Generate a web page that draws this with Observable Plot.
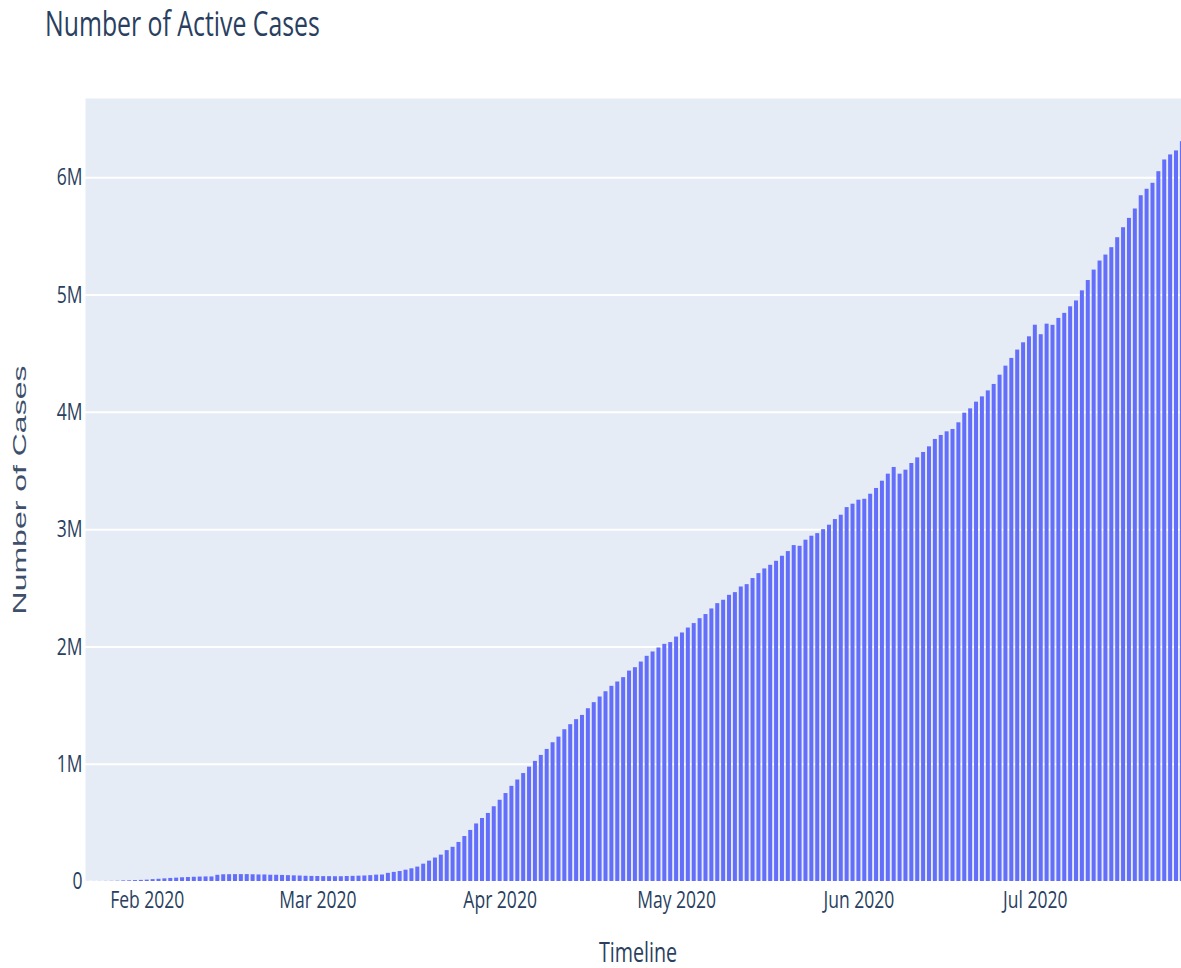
<!DOCTYPE html>
<html>
<head>
<meta charset="utf-8">
<script src="https://cdn.jsdelivr.net/npm/d3@7"></script>
<script src="https://cdn.jsdelivr.net/npm/@observablehq/plot@0.6"></script>
<style>
  html, body { margin: 0; padding: 0; background: #fff; overflow: hidden; }
  #wrap { position: relative; width: 1181px; height: 968px; }
  #title {
    position: absolute; left: 45px; top: 0px;
    font-family: "Open Sans", sans-serif; font-size: 34px; line-height: normal;
    color: #2a3f5f; white-space: nowrap;
    transform: scaleX(0.73); transform-origin: 0 0;
  }
  #chart { position: absolute; left: 0; top: 0; }
</style>
</head>
<body>
<div id="wrap">
  <div id="chart"></div>
  <div id="title">Number of Active Cases</div>
</div>
<script>
// ---- data ----
const startDate = "2020-01-22";
const activeCases = [
  510, 606, 879, 1353, 2010, 2784, 5340, 5907, 7920, 9492,
  11495, 15953, 18838, 22554, 25955, 28681, 31665, 33707, 36009, 37809,
  39014, 38960, 52715, 57328, 57991, 58600, 58819, 58793, 57409, 55788,
  55700, 53258, 53119, 51690, 49786, 48222, 46645, 44541, 43290, 42659,
  41622, 41456, 40700, 40742, 42476, 43931, 45325, 47108, 49954, 54257,
  55308, 69550, 77658, 84980, 96360, 108357, 122881, 147849, 173653, 200035,
  224816, 263375, 291526, 332868, 383471, 435178, 490639, 537110, 580217, 637346,
  692619, 749911, 811334, 865302, 920368, 975000, 1024000, 1075000, 1126000, 1183000,
  1231000, 1294000, 1337000, 1380000, 1416000, 1473000, 1525000, 1573000, 1618000, 1664000,
  1701000, 1738000, 1794000, 1823000, 1871000, 1920000, 1957000, 1991000, 2022000, 2037000,
  2084000, 2119000, 2161000, 2199000, 2241000, 2276000, 2324000, 2369000, 2398000, 2440000,
  2463000, 2511000, 2531000, 2583000, 2625000, 2665000, 2696000, 2730000, 2773000, 2813000,
  2864000, 2858000, 2910000, 2944000, 2966000, 3000000, 3038000, 3086000, 3123000, 3188000,
  3217000, 3251000, 3259000, 3302000, 3351000, 3413000, 3473000, 3530000, 3473000, 3507000,
  3564000, 3612000, 3658000, 3706000, 3769000, 3803000, 3834000, 3854000, 3911000, 3993000,
  4030000, 4087000, 4132000, 4183000, 4238000, 4317000, 4394000, 4460000, 4531000, 4593000,
  4644000, 4743000, 4662000, 4752000, 4742000, 4801000, 4844000, 4900000, 4950000, 5036000,
  5124000, 5213000, 5290000, 5341000, 5404000, 5489000, 5574000, 5654000, 5734000, 5847000,
  5902000, 5953000, 6052000, 6152000, 6195000, 6229000, 6308000, 6358362
];
const xTickDates = ["2020-02-01", "2020-03-01", "2020-04-01", "2020-05-01", "2020-06-01", "2020-07-01"];
const xTickLabels = ["Feb 2020", "Mar 2020", "Apr 2020", "May 2020", "Jun 2020", "Jul 2020"];
const yTickValues = [0, 1000000, 2000000, 3000000, 4000000, 5000000, 6000000];
const yTickLabels = ["0", "1M", "2M", "3M", "4M", "5M", "6M"];
const xLabel = "Timeline";
const yLabel = "Number of Cases";

// ---- table ----
const start = new Date(startDate + "T00:00Z");
const data = activeCases.map((v, i) => ({date: d3.utcDay.offset(start, i), active: v}));
const xTicks = xTickDates.map(s => new Date(s + "T00:00Z"));

const chart = Plot.plot({
  width: 1181,
  height: 968,
  marginLeft: 85,
  marginRight: 0,
  marginTop: 98,
  marginBottom: 87,
  style: {fontFamily: "'Open Sans', sans-serif", fontSize: "24px", color: "#2a3f5f", background: "transparent"},
  x: {
    type: "utc",
    domain: [new Date("2020-01-21T12:00Z"), new Date("2020-07-25T20:24Z")],
    ticks: xTicks,
    tickFormat: d => xTickLabels[xTicks.findIndex(t => +t === +d)],
    tickSize: 0,
    tickPadding: 9,
    label: xLabel,
    labelArrow: "none",
    labelAnchor: "center",
    labelOffset: 80
  },
  y: {
    domain: [0, 6676000],
    ticks: yTickValues,
    tickFormat: d => yTickLabels[yTickValues.indexOf(d)],
    tickSize: 0,
    tickPadding: 3,
    label: yLabel,
    labelArrow: "none",
    labelAnchor: "center",
    labelOffset: 73
  },
  marks: [
    Plot.frame({fill: "#E5ECF6", stroke: null}),
    Plot.gridY(yTickValues, {stroke: "#ffffff", strokeOpacity: 1, strokeWidth: 2}),
    Plot.rectY(data, {
      x1: d => d3.utcHour.offset(d.date, -12),
      x2: d => d3.utcHour.offset(d.date, 12),
      y: "active",
      fill: "#636EFA",
      insetLeft: 0.95,
      insetRight: 0.95,
      clip: true
    })
  ]
});
document.getElementById("chart").appendChild(chart);

// stretch text like the reference (condensed horizontally)
function appendScale(selector, s, extraStyle, stripArrow, shift) {
  chart.querySelectorAll(selector).forEach(t => {
    if (stripArrow) t.textContent = t.textContent.replace(/\s*[\u2190-\u2193]\s*/g, "").trim();
    t.setAttribute("transform", (t.getAttribute("transform") || "") + (shift ? ` translate(${shift},0)` : "") + ` scale(${s},1)`);
    if (extraStyle) Object.assign(t.style, extraStyle);
  });
}
appendScale('g[aria-label="x-axis tick label"] text', 0.73);
appendScale('g[aria-label="y-axis tick label"] text', 0.73);
appendScale('g[aria-label="x-axis label"] text', 0.73, {fontSize: "27px", fill: "#2a3f5f"}, true, 4.5);
appendScale('g[aria-label="y-axis label"] text', 1.73, {fontSize: "18.5px", fontFamily: "'Liberation Sans', Arial, sans-serif", fill: "#3d4f6a"}, true);
</script>
</body>
</html>
